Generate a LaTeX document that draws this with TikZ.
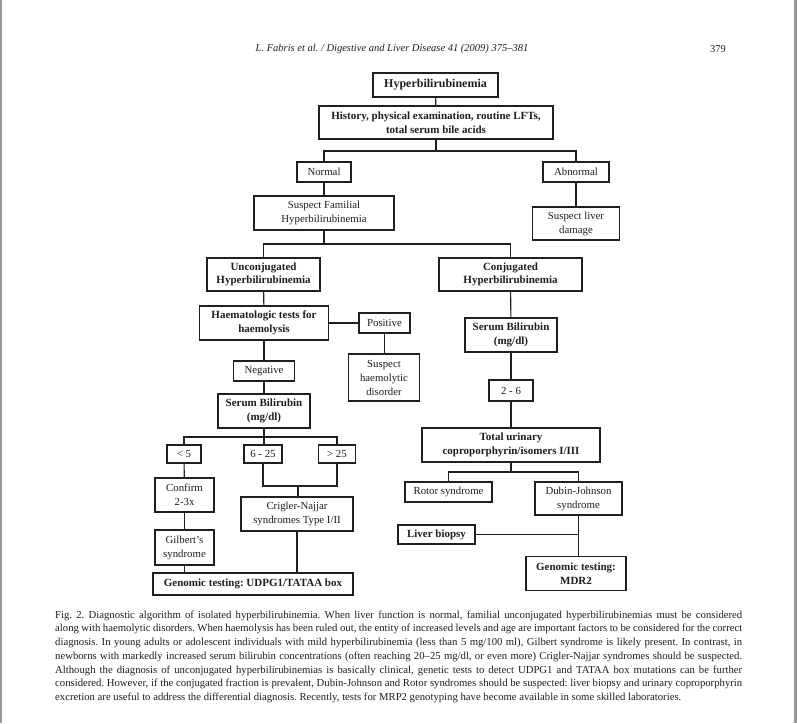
\documentclass[tikz,border=0pt]{standalone}
\usepackage{fontspec}
\setmainfont{Liberation Serif}
\usepackage{tikz}
\definecolor{pagegray}{rgb}{0.6, 0.6, 0.6}
\definecolor{inkgray}{rgb}{0.12, 0.12, 0.12}

\begin{document}
\frenchspacing
\begin{tikzpicture}[x=1pt, y=-1pt,
    box/.style={draw=inkgray, line width=1.1pt, align=center, inner sep=1pt, text=inkgray},
    bbox/.style={box, font=\fontsize{11}{13.5}\selectfont\bfseries},
    rbox/.style={box, font=\fontsize{10.8}{14}\selectfont},
    sz/.style 2 args={minimum width=#1, minimum height=#2},
    link/.style={draw=inkgray, line width=1.1pt}]
    \useasboundingbox[fill=white] (0,0) rectangle (797,723);
    \fill[pagegray] (0,0) rectangle (2,723);
    \fill[pagegray] (794,0) rectangle (797,723);

    \node[font=\fontsize{10.5}{12}\selectfont\itshape, text=inkgray] (head) at (392,49) {L. Fabris et al. / Digestive and Liver Disease 41 (2009) 375–381};
    \node[font=\fontsize{10.5}{12}\selectfont, text=inkgray] (pagenum) at (718,49) {379};

    \node[bbox, sz={125}{24}, font=\fontsize{12}{14}\selectfont\bfseries] (hyper) at (435.5,85) {Hyperbilirubinemia};
    \node[bbox, sz={234}{33}] (history) at (436,122.5) {History, physical examination, routine LFTs,\\ total serum bile acids};
    \node[rbox, sz={54}{20}] (normal) at (324,172) {Normal};
    \node[rbox, sz={66}{20}] (abnormal) at (576,172) {Abnormal};
    \node[rbox, sz={140}{34}] (familial) at (324,213) {Suspect Familial\\ Hyperbilirubinemia};
    \node[rbox, sz={87}{33}] (liverdmg) at (576,223.5) {Suspect liver\\ damage};
    \node[bbox, sz={113}{33}] (unconj) at (263.5,274.5) {Unconjugated\\ Hyperbilirubinemia};
    \node[bbox, sz={143}{33}] (conj) at (510.5,274.5) {Conjugated\\ Hyperbilirubinemia};
    \node[bbox, sz={129}{34}] (haemtest) at (264,323) {Haematologic tests for\\ haemolysis};
    \node[rbox, sz={51}{20}] (positive) at (384.5,323) {Positive};
    \node[rbox, sz={71}{47}] (haemdis) at (384,377.5) {Suspect\\ haemolytic\\ disorder};
    \node[rbox, sz={61}{20}] (negative) at (264,371) {Negative};
    \node[bbox, sz={92}{34}] (serumL) at (264,411) {Serum Bilirubin\\ (mg/dl)};
    \node[bbox, sz={92}{34}] (serumR) at (511,335) {Serum Bilirubin\\ (mg/dl)};
    \node[rbox, sz={44}{21}] (range26) at (511,390.5) {2 - 6};
    \node[rbox, sz={34}{18}] (lt5) at (184,454) {< 5};
    \node[rbox, sz={38}{18}] (range625) at (263,454) {6 - 25};
    \node[rbox, sz={37}{18}] (gt25) at (337,454) {> 25};
    \node[rbox, sz={59}{34}] (confirm) at (184.5,495) {Confirm\\ 2-3x};
    \node[rbox, sz={112}{34}] (crigler) at (297,514) {Crigler-Najjar\\ syndromes Type I/II};
    \node[rbox, sz={59}{35}] (gilbert) at (184.5,547.5) {Gilbert’s\\ syndrome};
    \node[bbox, sz={200}{22}] (genudpg) at (253,584) {Genomic testing: UDPG1/TATAA box};
    \node[bbox, sz={178}{34}] (urinary) at (511,445) {Total urinary\\ coproporphyrin/isomers I/III};
    \node[rbox, sz={87}{20}] (rotor) at (448.5,492) {Rotor syndrome};
    \node[rbox, sz={87}{33}] (dubin) at (578.5,498.5) {Dubin-Johnson\\ syndrome};
    \node[bbox, sz={77}{19}] (biopsy) at (436.5,534.5) {Liver biopsy};
    \node[bbox, sz={100}{34}] (genmdr) at (576,573.5) {Genomic testing:\\ MDR2};

    \coordinate (split1) at (436,151);
    \coordinate (split2) at (324,244);
    \coordinate (split3) at (264,437);
    \coordinate (split4) at (298,486);
    \coordinate (split5) at (511,472);

    \draw[link] (hyper) -- (history);
    \draw[link] (history) -- (split1);
    \draw[link] (normal) |- (split1) -| (abnormal);
    \draw[link] (normal) -- (familial);
    \draw[link] (abnormal) -- (liverdmg);
    \draw[link] (familial) -- (split2);
    \draw[link] (unconj) |- (split2) -| (conj);
    \draw[link] (unconj) -- (haemtest);
    \draw[link] (haemtest) -- (positive);
    \draw[link] (positive.south) -- (positive.south |- haemdis.north);
    \draw[link] (haemtest) -- (negative);
    \draw[link] (negative) -- (serumL);
    \draw[link] (serumL) -- (split3);
    \draw[link] (lt5) |- (split3) -| (gt25);
    \draw[link] (split3) -- (split3 |- range625.north);
    \draw[link] (range625) |- (split4) -| (gt25);
    \draw[link] (split4) -- (split4 |- crigler.north);
    \draw[link] (lt5) -- (confirm);
    \draw[link] (confirm) -- (gilbert);
    \draw[link] (gilbert.south) -- (gilbert.south |- genudpg.north);
    \draw[link] (crigler.south) -- (crigler.south |- genudpg.north);
    \draw[link] (conj) -- (serumR);
    \draw[link] (serumR) -- (range26);
    \draw[link] (range26) -- (urinary);
    \draw[link] (urinary) -- (split5);
    \draw[link] (rotor) |- (split5) -| (dubin);
    \draw[link] (dubin.south) -- (dubin.south |- genmdr.north);
    \draw[link] (biopsy) -- (biopsy -| dubin.south);

    \node[anchor=north west, text width=687, align=justify, inner sep=0pt, font=\fontsize{10.7}{13.7}\selectfont, text=inkgray] (caption) at (55,610.5) {Fig. 2. Diagnostic algorithm of isolated hyperbilirubinemia. When liver function is normal, familial unconjugated hyperbilirubinemias must be considered\linebreak
    along with haemolytic disorders. When haemolysis has been ruled out, the entity of increased levels and age are important factors to be considered for the correct\linebreak
    diagnosis. In young adults or adolescent individuals with mild hyperbilirubinemia (less than 5 mg/100 ml), Gilbert syndrome is likely present. In contrast, in\linebreak
    newborns with markedly increased serum bilirubin concentrations (often reaching 20–25 mg/dl, or even more) Crigler-Najjar syndromes should be suspected.\linebreak
    Although the diagnosis of unconjugated hyperbilirubinemias is basically clinical, genetic tests to detect UDPG1 and TATAA box mutations can be further\linebreak
    considered. However, if the conjugated fraction is prevalent, Dubin-Johnson and Rotor syndromes should be suspected: liver biopsy and urinary coproporphyrin\linebreak
    excretion are useful to address the differential diagnosis. Recently, tests for MRP2 genotyping have become available in some skilled laboratories.};
\end{tikzpicture}
\end{document}
